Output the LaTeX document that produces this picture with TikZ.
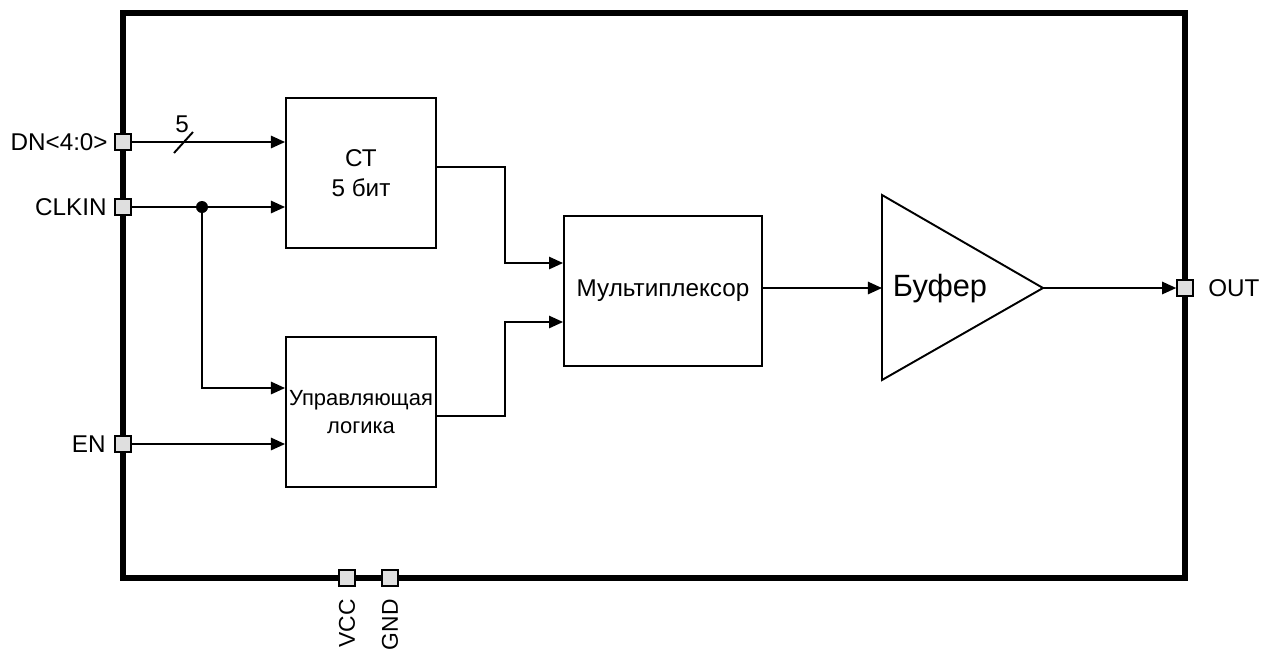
\documentclass[tikz,border=0pt]{standalone}
\usepackage{fontspec}
\setmainfont{Liberation Sans}
\usetikzlibrary{positioning,arrows.meta}

\begin{document}
\begin{tikzpicture}[
    x=0.02cm, y=-0.02cm,
    block/.style={draw,line width=1.1pt,inner sep=0pt,align=center,font=\fontsize{13.8}{17}\selectfont},
    pin/.style={draw,line width=0.9pt,fill=gray!25,minimum size=0.32cm,inner sep=0pt},
    lbl/.style={inner sep=0pt,font=\fontsize{13.8}{16}\selectfont},
    sig/.style={line width=1.1pt},
    >={Triangle[length=8pt,width=7pt]}
]

\useasboundingbox (0,0) rectangle (1261,654);

% chip outline
\draw[line width=3.4pt] (123,13) rectangle (1185,578);

% blocks
\node[block,minimum width=3cm,minimum height=3cm]   (ct)  at (361,173) {СТ\\5 бит};
\node[block,minimum width=3cm,minimum height=3cm,font=\fontsize{12.5}{16}\selectfont] (lg) at (361,412) {Управляющая\\логика};
\node[block,minimum width=3.96cm,minimum height=3cm] (mux) at (663,291) {Мультиплексор};

% buffer
\coordinate (bufin)  at (882,288);
\coordinate (buftip) at (1043,288);
\draw[line width=1.1pt] (882,195) -- (buftip) -- (882,380) -- cycle;
\node[lbl,font=\fontsize{17.5}{20}\selectfont] (buf) at (940,289) {Буфер};

% pins
\node[pin] (pDN)  at (123,142) {};
\node[pin] (pCLK) at (123,207) {};
\node[pin] (pEN)  at (123,444) {};
\node[pin] (pOUT) at (1185,288) {};
\node[pin] (pVCC) at (347,578) {};
\node[pin] (pGND) at (390,578) {};

% pin names
\node[lbl,anchor=east] (tDN)  at (108,142) {DN<4:0>};
\node[lbl,anchor=east] (tCLK) at (107,207) {CLKIN};
\node[lbl,anchor=east] (tEN)  at (106,444) {EN};
\node[lbl,anchor=west] (tOUT) at (1208,288) {OUT};
\node[lbl,rotate=90,anchor=east,font=\fontsize{13}{15}\selectfont] (tVCC) at (347,599) {VCC};
\node[lbl,rotate=90,anchor=east,font=\fontsize{13}{15}\selectfont] (tGND) at (390,599) {GND};

% inputs
\draw[sig,->] (pDN.east) -- (pDN -| ct.west);
\draw[sig] (174,153) -- (193,132);
\node[lbl] (bus) at (182,124) {5};
\node[circle,fill,minimum size=0.24cm,inner sep=0pt] (jn) at (202,207) {};
\draw[sig,->] (pCLK.east) -- (pCLK -| ct.west);
\draw[sig,->] (jn) |- ([yshift=0.48cm]lg.west);
\draw[sig,->] (pEN.east) -- (pEN -| lg.west);

% to multiplexer
\draw[sig,->] ([yshift=0.12cm]ct.east) -| (505,263) -- ([yshift=0.56cm]mux.west);
\draw[sig,->] ([yshift=-0.08cm]lg.east) -| (505,322) -- ([yshift=-0.62cm]mux.west);

% output
\draw[sig,->] (mux.east |- bufin) -- (bufin);
\draw[sig,->] (buftip) -- (pOUT.west);

\end{tikzpicture}
\end{document}
